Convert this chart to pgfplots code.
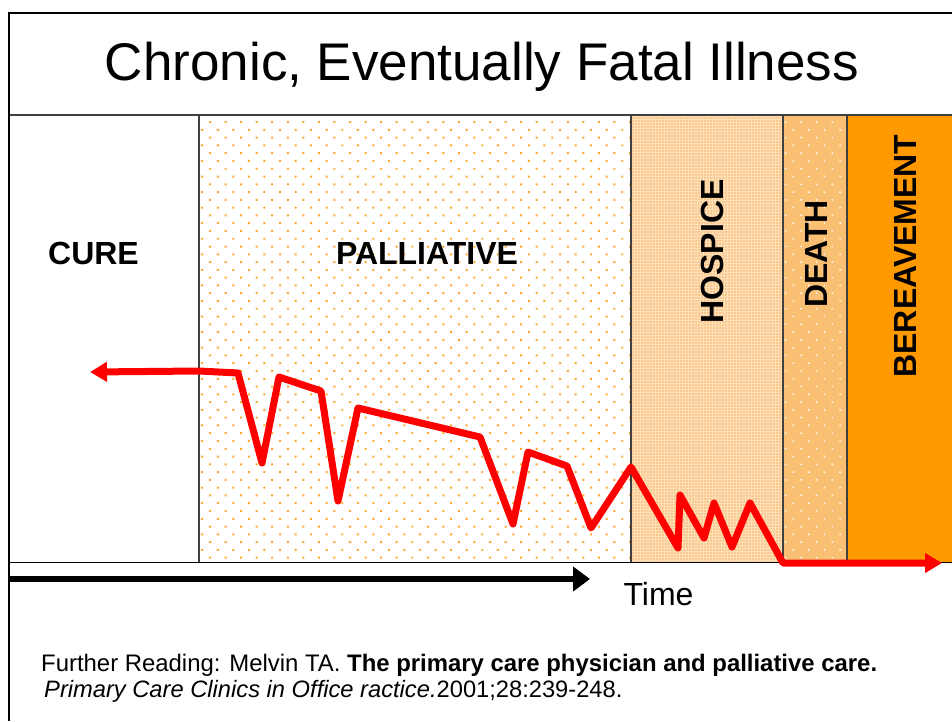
\documentclass[border=0pt]{standalone}
\usepackage{pgfplots}
\pgfplotsset{compat=1.18}
\usepackage{fontspec}
\setmainfont{Liberation Sans}
\usetikzlibrary{arrows.meta,patterns.meta}
\definecolor{dotor}{HTML}{FFA82E}
\definecolor{hosp}{HTML}{FDE0B8}
\definecolor{hospdot}{HTML}{F8B060}
\definecolor{death}{HTML}{F9C074}
\definecolor{berev}{HTML}{FF9900}
\definecolor{gline}{HTML}{404040}
\begin{document}
\begin{tikzpicture}
\begin{axis}[scale only axis, width=952pt, height=721pt,
  xmin=0, xmax=952, ymin=0, ymax=721, y dir=reverse,
  axis lines=none, ticks=none, clip=true]
% regions
\addplot[draw=none, fill=white, postaction={pattern color=dotor, pattern={Dots[distance=11pt, angle=45, radius=1.4pt]}}]
  coordinates {(199,115) (631,115) (631,562) (199,562) (199,115)};
\addplot[draw=none, fill=hosp, postaction={pattern color=hospdot, pattern={Dots[distance=3pt, radius=0.8pt]}}]
  coordinates {(631,115) (783,115) (783,562) (631,562) (631,115)};
\addplot[draw=none, fill=death, postaction={pattern color=white, pattern={Dots[distance=11pt, angle=45, radius=1pt]}}]
  coordinates {(783,115) (847,115) (847,562) (783,562) (783,115)};
\addplot[draw=none, fill=berev]
  coordinates {(847,115) (952,115) (952,562) (847,562) (847,115)};
% lines
\addplot[gline, line width=1.5pt] coordinates {(199,115) (199,562)};
\addplot[gline, line width=1.5pt] coordinates {(631,115) (631,562)};
\addplot[gline, line width=1.5pt] coordinates {(783,115) (783,562)};
\addplot[gline, line width=1.5pt] coordinates {(847,115) (847,562)};
\addplot[gline, line width=1.5pt] coordinates {(9,115) (952,115)};
\addplot[black, line width=1pt] coordinates {(9,562.5) (952,562.5)};
\addplot[black, line width=2pt] coordinates {(8.5,721) (8.5,12.5) (952,12.5)};
% time arrow
\addplot[black, line width=6.5pt, -{Triangle[length=17pt,width=24pt]}] coordinates {(8,579) (590,579)};
% trajectory
\addplot[red, line width=7pt, line join=round, {Triangle[length=17pt,width=19pt]}-{Triangle[length=17pt,width=19pt]}]
  coordinates {(90,372) (199,371) (238,373) (262,463) (279,377) (321,391) (338,501) (358,408)
  (480,437) (513,524) (528,452) (567,466) (591,528) (631,467) (678,548) (680,495) (704,538)
  (714,503) (732,547) (750,503) (783,563) (942,563)};
% texts
\node[anchor=base, inner sep=0] at (axis cs:482,80) {\fontsize{53}{58}\selectfont Chronic, Eventually Fatal Illness};
\node[inner sep=0] at (axis cs:93.5,253) {\fontsize{32}{36}\selectfont\bfseries CURE};
\node[inner sep=0] at (axis cs:427,253) {\fontsize{32}{36}\selectfont\bfseries PALLIATIVE};
\node[inner sep=0, rotate=90] at (axis cs:712,251.5) {\fontsize{32}{36}\selectfont\bfseries HOSPICE};
\node[inner sep=0, rotate=90] at (axis cs:816,254) {\fontsize{32}{36}\selectfont\bfseries DEATH};
\node[inner sep=0, rotate=90] at (axis cs:905.5,256) {\fontsize{32}{36}\selectfont\bfseries BEREAVEMENT};
\node[inner sep=0] at (axis cs:658.5,594.5) {\fontsize{32}{34}\selectfont Time};
\node[anchor=base west, inner sep=0] at (axis cs:41,671.5) {\fontsize{23.9}{26}\selectfont Further Reading: Melvin TA. \textbf{The primary care physician and palliative care.}};
\node[anchor=base west, inner sep=0] at (axis cs:44,697) {\fontsize{23.7}{26}\selectfont \textit{Primary Care Clinics in Office ractice.}2001;28:239-248.};
\end{axis}
\pgfresetboundingbox
\path (current axis.south west) rectangle (current axis.north east);
\end{tikzpicture}
\end{document}
